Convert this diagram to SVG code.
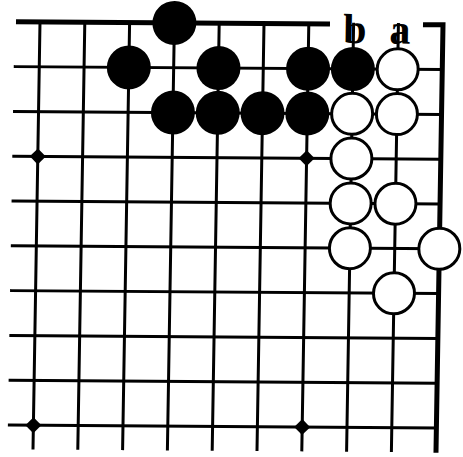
<svg xmlns="http://www.w3.org/2000/svg" width="463" height="457" viewBox="0 0 463 457">
<style>
.g{stroke:#000;stroke-width:3;fill:none;stroke-linecap:square}
.e{stroke:#000;stroke-width:5;fill:none}
.b{fill:#000}
.w{fill:#fff;stroke:#000;stroke-width:3}
.lbl{font-family:"Liberation Serif",serif;font-weight:bold;font-size:42px;fill:#000;text-anchor:middle}
</style>
<rect width="463" height="457" fill="#fff"/>
<g transform="matrix(1,0.007,-0.0164,1,0.36,-0.28)">
<g id="grid">
<path class="g" d="M40,22V448M84.8,22V448M129.6,22V448M174.4,22V448M219.2,22V448M264,22V448M308.8,22V448M353.6,22V448M398.4,22V448"/>
<path class="g" d="M16,66.8H443M16,111.6H443M16,156.4H443M16,201.2H443M16,246H443M16,290.8H443M16,335.6H443M16,380.4H443M16,425.2H443"/>
<path class="e" d="M16,22H330M423,22H443V450"/>
</g>
<g id="stars" class="b">
<polygon points="40,148.4 48,156.4 40,164.4 32,156.4"/>
<polygon points="308.8,148.4 316.8,156.4 308.8,164.4 300.8,156.4"/>
<polygon points="40,417.2 48,425.2 40,433.2 32,425.2"/>
<polygon points="308.8,417.2 316.8,425.2 308.8,433.2 300.8,425.2"/>
</g>
<g id="labels">
<text class="lbl" x="355" y="41">b</text>
<text class="lbl" x="400" y="41">a</text>
</g>
<g id="black">
<circle class="b" cx="174.4" cy="22" r="22"/>
<circle class="b" cx="129.6" cy="66.8" r="22"/>
<circle class="b" cx="219.2" cy="66.8" r="22"/>
<circle class="b" cx="308.8" cy="66.8" r="22"/>
<circle class="b" cx="353.6" cy="66.8" r="22"/>
<circle class="b" cx="174.4" cy="111.6" r="22"/>
<circle class="b" cx="219.2" cy="111.6" r="22"/>
<circle class="b" cx="264" cy="111.6" r="22"/>
<circle class="b" cx="308.8" cy="111.6" r="22"/>
</g>
<g id="white">
<circle class="w" cx="398.4" cy="66.8" r="20.5"/>
<circle class="w" cx="353.6" cy="111.6" r="20.5"/>
<circle class="w" cx="398.4" cy="111.6" r="20.5"/>
<circle class="w" cx="353.6" cy="156.4" r="20.5"/>
<circle class="w" cx="353.6" cy="201.2" r="20.5"/>
<circle class="w" cx="398.4" cy="201.2" r="20.5"/>
<circle class="w" cx="353.6" cy="246" r="20.5"/>
<circle class="w" cx="443" cy="246" r="20.5"/>
<circle class="w" cx="398.4" cy="290.8" r="20.5"/>
</g>
</g>
</svg>
